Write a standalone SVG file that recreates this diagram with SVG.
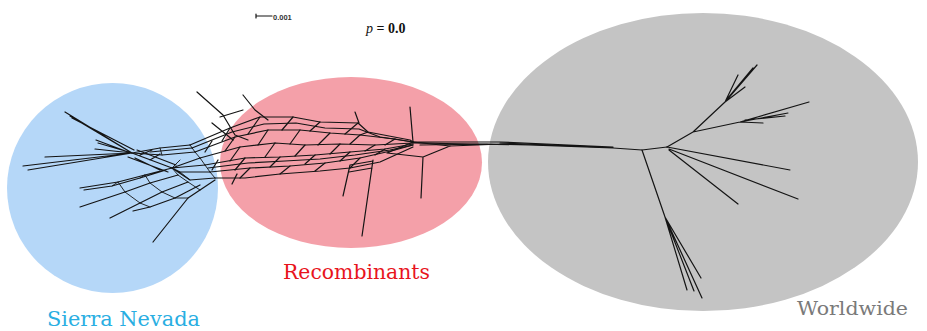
<svg xmlns="http://www.w3.org/2000/svg" width="927" height="331" viewBox="0 0 927 331">
<style>
.net{fill:none;stroke:#141414;stroke-width:1.2;stroke-linejoin:round;stroke-linecap:round}
.thin{fill:none;stroke:#141414;stroke-width:0.9;stroke-linecap:round}
.lbl{font-family:"DejaVu Serif","Liberation Serif",serif}
</style>
<rect width="927" height="331" fill="#ffffff"/>
<g id="clusters">
<ellipse id="sierra" cx="112.5" cy="188" rx="105.5" ry="105" fill="#b5d7f8"/>
<ellipse id="recomb" cx="351" cy="162.5" rx="131" ry="85.5" fill="#f4a0a9"/>
<ellipse id="world" cx="703" cy="162" rx="215" ry="149" fill="#c4c4c4"/>
</g>
<g id="network">
<!-- left leaves from L1 -->
<path class="net" d="M132,153L65,112M132,153L70,116M132,153L23,166M132,153L28,170M132,153L45,157M132,153L98,143M132,153L95,149M128,152L96,140M134,150L72,118"/>
<!-- L1 to L2 -->
<path class="net" d="M132,153L172,168M137,150L176,165M128,157L168,172M140,155L152,150M150,160L160,154M135,158L160,170"/>
<!-- lower left mesh -->
<path class="net" d="M172,168L145,175L118,182L80,188M178,175L150,183L125,192L80,207M188,182L162,192L140,203L110,218M200,185L175,198L150,207L133,211M215,180L200,190L188,198L153,242M166,170L140,178L112,186L84,190"/>
<path class="thin" d="M145,175L150,183M118,182L125,192M150,183L162,192M125,192L140,203M162,192L175,198M140,203L150,207M175,198L188,198M200,190L188,182M172,168L178,175M178,175L188,182M140,178L145,175M112,186L118,182"/>
<!-- strands connecting to left nodes -->
<path class="net" d="M190,145L160,148L132,153M195,152L162,155L132,153M200,158L172,168M205,165L172,168M210,172L180,172L172,168M215,178L190,180L172,168M192,148L150,152"/>
<path class="thin" d="M160,148L162,155M190,145L195,152M195,152L200,158M200,158L205,165M205,165L210,172M210,172L215,178M180,172L190,180M172,168L180,160"/>
<!-- pink mesh strands -->
<path class="net" d="M190,145L230,128L260,117L293,117L320,122L358,123L368,132L410,140L413,142"/>
<path class="net" d="M192,148L232,132L264,124L296,123L325,128L359,129L380,137L413,142"/>
<path class="net" d="M195,152L235,137L268,130L300,130L330,133L360,135L395,139L413,142"/>
<path class="net" d="M200,158L240,147L275,143L305,145L340,144L375,145L413,143"/>
<path class="net" d="M205,165L245,158L280,157L315,155L350,152L385,149L413,144"/>
<path class="net" d="M208,168L248,163L285,161L320,159L355,155L390,150L413,145"/>
<path class="net" d="M210,172L250,168L290,166L325,163L360,158L395,150L413,145"/>
<path class="net" d="M215,178L245,178L280,174L320,171L350,168L380,162L413,147"/>
<!-- cross links -->
<path class="net" d="M230,128L222,141M260,117L248,134M293,117L282,130M320,122L310,131M358,123L345,134M368,132L360,135M235,137L225,151M268,130L258,145M300,130L290,144M330,133L318,145M360,135L350,144M395,139L385,145M240,147L230,161M275,143L265,157M305,145L295,156M340,144L330,154M375,145L365,151M245,158L235,170M280,157L270,167M315,155L305,164M350,152L340,161M385,149L375,155M250,168L240,178M290,166L280,174M325,163L315,171M360,158L350,168M212,141L205,152M218,160L212,170"/>
<!-- upper-left long leaves entering the mesh -->
<path class="net" d="M197,92L223,115L235,135L248,140" stroke-width="1.7"/>
<path class="net" d="M243,95L255,110L268,120M212,123L233,140M220,117L243,110"/>
<path class="net" d="M237,174L232,184"/>
<!-- pink leaves -->
<path class="net" d="M373,160L362,236M350,165L343,196M350,165L373,161M349,172L372,168M355,112L359,123M410,107L413,142"/>
<!-- right box and leaf -->
<path class="net" d="M413,142L450,146L423,157L387,153ZM423,157L421,198"/>
<!-- trunk -->
<path class="net" d="M413,142L500,142L613,147M450,146L503,144L613,148M413,143L540,145L613,148M420,145L487,144L613,147M613,148L642,150"/>
<path class="net" d="M500,143L600,147" stroke-width="1.8"/>
<!-- worldwide tree -->
<path class="net" d="M642,150L667,147M642,150L665,217L687,290M665,217L702,298M665,217L701,278M667,222L694,291"/>
<path class="net" d="M667,147L693,132L725,102L757,65M725,102L738,75M725,102L745,87M728,98L753,68M693,132L740,122L809,102M740,122L788,113M740,122L763,123M745,120L785,116"/>
<path class="net" d="M667,147L790,170M669,149L798,199M669,150L738,204"/>
<!-- scale bar -->
<path class="net" d="M256,16L272,16M256,14L256,18"/>
</g>
<g id="labels">
<text x="273" y="20" font-family="Liberation Sans,sans-serif" font-size="7.5" font-weight="bold" fill="#333">0.001</text>
<text x="366" y="33" font-size="14" fill="#111" font-family="Liberation Serif,serif"><tspan font-style="italic">p</tspan><tspan font-weight="bold"> = 0.0</tspan></text>
<text x="47" y="326" class="lbl" font-size="20" fill="#29aee2" textLength="153" lengthAdjust="spacingAndGlyphs">Sierra  Nevada</text>
<text x="283" y="279" class="lbl" font-size="20" fill="#e8141c" textLength="147" lengthAdjust="spacingAndGlyphs">Recombinants</text>
<text x="797" y="315" class="lbl" font-size="19" fill="#7a7a7a" textLength="111" lengthAdjust="spacingAndGlyphs">Worldwide</text>
</g>
</svg>
